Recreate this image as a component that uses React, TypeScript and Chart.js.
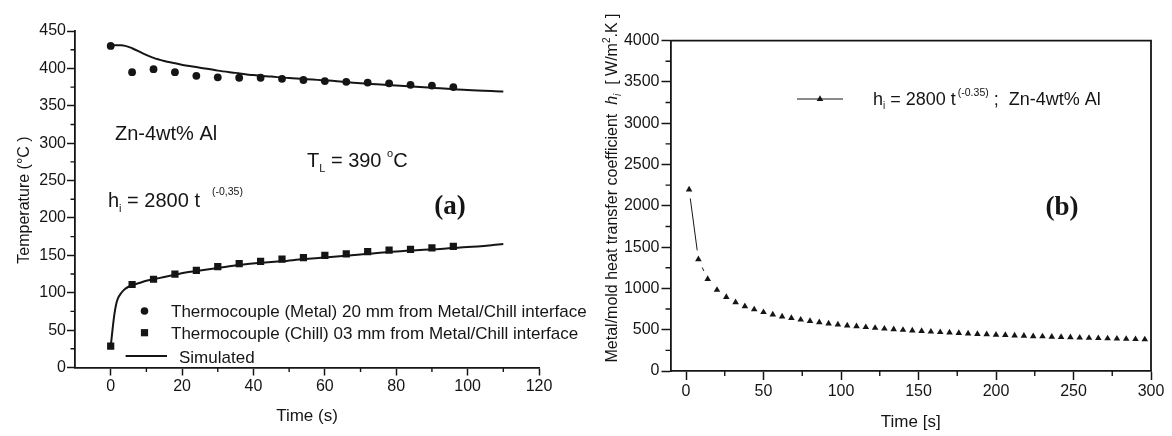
import React, { useEffect, useRef } from 'react';
import { Chart, registerables } from 'chart.js';

Chart.register(...registerables);

// ---------- Panel (a) data ----------
const METAL_T = [0, 6, 12, 18, 24, 30, 36, 42, 48, 54, 60, 66, 72, 78, 84, 90, 96];
const METAL_TEMP = [430, 395, 399, 395, 390, 388, 387.5, 387.5, 386, 384.5, 383, 382, 381, 380, 378, 377, 375];
const CHILL_T = [0, 6, 12, 18, 24, 30, 36, 42, 48, 54, 60, 66, 72, 78, 84, 90, 96];
const CHILL_TEMP = [28.7, 111, 118, 125, 130, 135, 139, 142, 145, 147, 150, 152, 155, 157, 158, 160, 162];
const SIM_METAL_T = [0, 3, 6, 9, 12, 15, 18, 21, 25, 30, 35, 40, 45, 50, 60, 70, 80, 90, 100, 110];
const SIM_METAL_TEMP = [431, 431, 427, 420, 414, 410, 407, 404, 401, 397, 394, 391, 389, 387, 384, 380, 377, 374, 371, 369];
const SIM_CHILL_T = [0, 0.5, 1, 1.5, 2, 3, 4, 5, 6, 8, 10, 12, 15, 18, 21, 24, 30, 36, 42, 48, 54, 60, 70, 80, 90, 100, 110];
const SIM_CHILL_TEMP = [28, 50, 70, 84, 92, 100, 105, 108, 110, 113, 116, 118, 121, 124, 127, 129, 133, 137, 140, 142, 145, 147, 151, 155, 158, 161, 165];
const A_X_TICKS = [0, 20, 40, 60, 80, 100, 120];
const A_Y_TICKS = [0, 50, 100, 150, 200, 250, 300, 350, 400, 450];
const A_X_MINOR = [10, 30, 50, 70, 90, 110];
const A_Y_MINOR = [25, 75, 125, 175, 225, 275, 325, 375, 425];

// ---------- Panel (b) data ----------
const HTC_T = [2, 8, 14, 20, 26, 32, 38, 44, 50, 56, 62, 68, 74, 80, 86, 92, 98, 104, 110, 116, 122, 128, 134, 140, 146, 152, 158, 164, 170, 176, 182, 188, 194, 200, 206, 212, 218, 224, 230, 236, 242, 248, 254, 260, 266, 272, 278, 284, 290, 296];
const HTC_VALUES = [2197, 1352, 1112, 981, 895, 832, 784, 745, 712, 684, 660, 640, 621, 604, 589, 575, 563, 551, 540, 530, 521, 512, 504, 497, 489, 483, 476, 470, 464, 458, 453, 448, 443, 438, 434, 429, 425, 421, 418, 414, 410, 407, 403, 400, 397, 394, 391, 388, 385, 382];
const B_X_TICKS = [0, 50, 100, 150, 200, 250, 300];
const B_Y_TICKS = [0, 500, 1000, 1500, 2000, 2500, 3000, 3500, 4000];
const B_X_MINOR = [25, 75, 125, 175, 225, 275];
const B_Y_MINOR = [250, 750, 1250, 1750, 2250, 2750, 3250, 3750];

const W = 1172;
const H = 436;
const FONT = '"Liberation Sans", Arial, Helvetica, sans-serif';
const SERIF = '"Liberation Serif", "Times New Roman", serif';
const INK = '#151515';

type Seg = { t: string; size: number; dy?: number; italic?: boolean; bold?: boolean; serif?: boolean; gap?: number };

function fontOf(s: Seg) {
  return `${s.italic ? 'italic ' : ''}${s.bold ? 'bold ' : ''}${s.size}px ${s.serif ? SERIF : FONT}`;
}

function drawRich(ctx: CanvasRenderingContext2D, x: number, y: number, segs: Seg[], align: 'left' | 'center' = 'left', rot = 0) {
  ctx.save();
  ctx.translate(x, y);
  if (rot) ctx.rotate(rot);
  ctx.textBaseline = 'alphabetic';
  ctx.textAlign = 'left';
  ctx.fillStyle = INK;
  let total = 0;
  const widths = segs.map((s) => {
    ctx.font = fontOf(s);
    const w = ctx.measureText(s.t).width + (s.gap || 0);
    total += w;
    return w;
  });
  let cx = align === 'center' ? -total / 2 : 0;
  segs.forEach((s, i) => {
    ctx.font = fontOf(s);
    ctx.fillText(s.t, cx + (s.gap || 0), s.dy || 0);
    cx += widths[i];
  });
  ctx.restore();
}

function drawMinor(chart: any, xs: number[], ys: number[], len: number) {
  const ctx: CanvasRenderingContext2D = chart.ctx;
  const { left, bottom } = chart.chartArea;
  const sx = chart.scales.x;
  const sy = chart.scales.y;
  ctx.save();
  ctx.strokeStyle = INK;
  ctx.lineWidth = 1.4;
  ctx.beginPath();
  xs.forEach((v) => {
    const p = sx.getPixelForValue(v);
    ctx.moveTo(p, bottom);
    ctx.lineTo(p, bottom + len);
  });
  ys.forEach((v) => {
    const p = sy.getPixelForValue(v);
    ctx.moveTo(left - len, p);
    ctx.lineTo(left, p);
  });
  ctx.stroke();
  ctx.restore();
}

function fixedScale(size: number, horizontal: boolean) {
  return (s: any) => {
    if (horizontal) s.height = size;
    else s.width = size;
    s.paddingLeft = 0;
    s.paddingRight = 0;
    s.paddingTop = 0;
    s.paddingBottom = 0;
  };
}

function axisOpts(min: number, max: number, ticks: number[], fit: (s: any) => void, tickLen: number, pad: number) {
  return {
    type: 'linear' as const,
    min,
    max,
    afterBuildTicks: (s: any) => {
      s.ticks = ticks.map((value) => ({ value }));
    },
    afterFit: fit,
    grid: { display: true, drawOnChartArea: false, drawTicks: true, tickLength: tickLen, tickWidth: 1.5, tickColor: INK },
    border: { display: true, color: INK, width: 1.8 },
    ticks: {
      color: INK,
      font: { family: FONT, size: 16 },
      padding: pad,
      maxRotation: 0,
      autoSkip: false,
      callback: (v: any) => String(v),
    },
  };
}

const decorA = {
  id: 'decorA',
  afterDraw(chart: any) {
    const ctx: CanvasRenderingContext2D = chart.ctx;
    const { left, right } = chart.chartArea;
    drawMinor(chart, A_X_MINOR, A_Y_MINOR, 4.5);
    // axis titles
    drawRich(ctx, 29, 200, [{ t: 'Temperature (°C )', size: 16 }], 'center', -Math.PI / 2);
    drawRich(ctx, (left + right) / 2, 421, [{ t: 'Time (s)', size: 17 }], 'center');
    // annotations
    drawRich(ctx, 115, 139.5, [{ t: 'Zn-4wt% Al', size: 20 }]);
    drawRich(ctx, 307, 167, [
      { t: 'T', size: 20 },
      { t: 'L', size: 11, dy: 5 },
      { t: ' = 390 ', size: 20 },
      { t: 'o', size: 11, dy: -10 },
      { t: 'C', size: 20 },
    ]);
    drawRich(ctx, 108, 207, [
      { t: 'h', size: 20 },
      { t: 'i', size: 11, dy: 5 },
      { t: ' = 2800 t', size: 20 },
      { t: '(-0,35)', size: 10.5, dy: -12, gap: 12 },
    ]);
    drawRich(ctx, 450, 214, [{ t: '(a)', size: 27, bold: true, serif: true }], 'center');
    // legend
    ctx.save();
    ctx.fillStyle = INK;
    ctx.strokeStyle = INK;
    ctx.beginPath();
    ctx.arc(144.5, 311, 3.8, 0, Math.PI * 2);
    ctx.fill();
    ctx.fillRect(144.5 - 3.6, 332.7 - 3.6, 7.2, 7.2);
    ctx.lineWidth = 2;
    ctx.beginPath();
    ctx.moveTo(125.6, 356);
    ctx.lineTo(167, 356);
    ctx.stroke();
    ctx.restore();
    drawRich(ctx, 171, 317, [{ t: 'Thermocouple (Metal) 20 mm from Metal/Chill interface', size: 17 }]);
    drawRich(ctx, 171, 338.7, [{ t: 'Thermocouple (Chill) 03 mm from Metal/Chill interface', size: 17 }]);
    drawRich(ctx, 179, 362.5, [{ t: 'Simulated', size: 17 }]);
  },
};

const decorB = {
  id: 'decorB',
  beforeDatasetsDraw(chart: any) {
    // connecting line with gaps around each symbol (Origin style)
    const ctx: CanvasRenderingContext2D = chart.ctx;
    const pts = chart.getDatasetMeta(0).data;
    const gap = 9;
    ctx.save();
    ctx.strokeStyle = INK;
    ctx.lineWidth = 1;
    ctx.beginPath();
    for (let i = 0; i < pts.length - 1; i++) {
      const a = pts[i];
      const b = pts[i + 1];
      const dx = b.x - a.x;
      const dy = b.y - a.y;
      const len = Math.hypot(dx, dy);
      if (len <= 2 * gap) continue;
      const ux = dx / len;
      const uy = dy / len;
      ctx.moveTo(a.x + ux * gap, a.y + uy * gap);
      ctx.lineTo(b.x - ux * gap, b.y - uy * gap);
    }
    ctx.stroke();
    ctx.restore();
  },
  afterDraw(chart: any) {
    const ctx: CanvasRenderingContext2D = chart.ctx;
    const { left, right, top, bottom } = chart.chartArea;
    drawMinor(chart, B_X_MINOR, B_Y_MINOR, 5);
    // frame top/right
    ctx.save();
    ctx.strokeStyle = INK;
    ctx.lineWidth = 1.8;
    ctx.beginPath();
    ctx.moveTo(left, top);
    ctx.lineTo(right, top);
    ctx.lineTo(right, bottom);
    ctx.stroke();
    ctx.restore();
    // titles
    drawRich(ctx, 617, 188, [
      { t: 'Metal/mold heat transfer coefficient  ', size: 16 },
      { t: 'h', size: 16, italic: true },
      { t: 'i', size: 10, italic: true, dy: 4 },
      { t: '  [ W/m', size: 16 },
      { t: '2', size: 10, dy: -7 },
      { t: '.K ]', size: 16 },
    ], 'center', -Math.PI / 2);
    drawRich(ctx, (left + right) / 2, 427, [{ t: 'Time [s]', size: 17 }], 'center');
    // legend
    ctx.save();
    ctx.strokeStyle = INK;
    ctx.fillStyle = INK;
    ctx.lineWidth = 1;
    ctx.beginPath();
    ctx.moveTo(797, 99);
    ctx.lineTo(843, 99);
    ctx.stroke();
    const r = 3.8;
    ctx.beginPath();
    ctx.moveTo(820, 99 - r);
    ctx.lineTo(820 + r * 0.866, 99 + r / 2);
    ctx.lineTo(820 - r * 0.866, 99 + r / 2);
    ctx.closePath();
    ctx.fill();
    ctx.restore();
    drawRich(ctx, 873, 105, [
      { t: 'h', size: 18 },
      { t: 'i', size: 10, dy: 4 },
      { t: ' = 2800 t', size: 18 },
      { t: '(-0.35)', size: 10.5, dy: -9, gap: 2 },
      { t: ' ;  Zn-4wt% Al', size: 18 },
    ]);
    drawRich(ctx, 1062, 215, [{ t: '(b)', size: 27, bold: true, serif: true }], 'center');
  },
};

function pts(xs: number[], ys: number[]) {
  return xs.map((x, i) => ({ x, y: ys[i] }));
}

export default function App() {
  const refA = useRef<HTMLCanvasElement>(null);
  const refB = useRef<HTMLCanvasElement>(null);

  useEffect(() => {
    const chartA = new Chart(refA.current as HTMLCanvasElement, {
      type: 'scatter',
      data: {
        datasets: [
          {
            label: 'Simulated (metal)',
            data: pts(SIM_METAL_T, SIM_METAL_TEMP),
            showLine: true,
            borderColor: INK,
            borderWidth: 2,
            pointRadius: 0,
            cubicInterpolationMode: 'monotone',
          },
          {
            label: 'Simulated (chill)',
            data: pts(SIM_CHILL_T, SIM_CHILL_TEMP),
            showLine: true,
            borderColor: INK,
            borderWidth: 2,
            pointRadius: 0,
            cubicInterpolationMode: 'monotone',
          },
          {
            label: 'Thermocouple (Metal) 20 mm from Metal/Chill interface',
            data: pts(METAL_T, METAL_TEMP),
            showLine: false,
            pointStyle: 'circle',
            pointRadius: 3.9,
            backgroundColor: INK,
            borderColor: INK,
            borderWidth: 0,
          },
          {
            label: 'Thermocouple (Chill) 03 mm from Metal/Chill interface',
            data: pts(CHILL_T, CHILL_TEMP),
            showLine: false,
            pointStyle: 'rect',
            pointRadius: 5.1,
            backgroundColor: INK,
            borderColor: INK,
            borderWidth: 0,
          },
        ],
      },
      options: {
        responsive: false,
        animation: false,
        devicePixelRatio: 1,
        layout: { padding: { left: 0, top: 31, right: W - 539, bottom: 0 } },
        plugins: { legend: { display: false }, tooltip: { enabled: false } },
        scales: {
          x: axisOpts(-10, 120, A_X_TICKS, fixedScale(H - 367.5, true), 8, 1),
          y: axisOpts(0, 450, A_Y_TICKS, fixedScale(75, false), 8, 1),
        },
      } as any,
      plugins: [decorA],
    });

    const chartB = new Chart(refB.current as HTMLCanvasElement, {
      type: 'scatter',
      data: {
        datasets: [
          {
            label: 'hi = 2800 t^(-0.35); Zn-4wt% Al',
            data: pts(HTC_T, HTC_VALUES),
            showLine: false,
            pointStyle: 'triangle',
            pointRadius: 3.8,
            backgroundColor: INK,
            borderColor: INK,
            pointBorderWidth: 0,
          },
        ],
      },
      options: {
        responsive: false,
        animation: false,
        devicePixelRatio: 1,
        layout: { padding: { left: 600, top: 40.6, right: W - 1151, bottom: 0 } },
        plugins: { legend: { display: false }, tooltip: { enabled: false } },
        scales: {
          x: axisOpts(-10, 300, B_X_TICKS, fixedScale(H - 371, true), 9, 2),
          y: axisOpts(0, 4000, B_Y_TICKS, fixedScale(70.5, false), 9, 2),
        },
      } as any,
      plugins: [decorB],
    });

    return () => {
      chartA.destroy();
      chartB.destroy();
    };
  }, []);

  const cs: React.CSSProperties = { position: 'absolute', left: 0, top: 0, width: W, height: H, display: 'block' };
  return (
    <div style={{ position: 'fixed', left: 0, top: 0, width: W, height: H, background: '#fff' }}>
      <canvas ref={refA} width={W} height={H} style={cs} />
      <canvas ref={refB} width={W} height={H} style={cs} />
    </div>
  );
}
